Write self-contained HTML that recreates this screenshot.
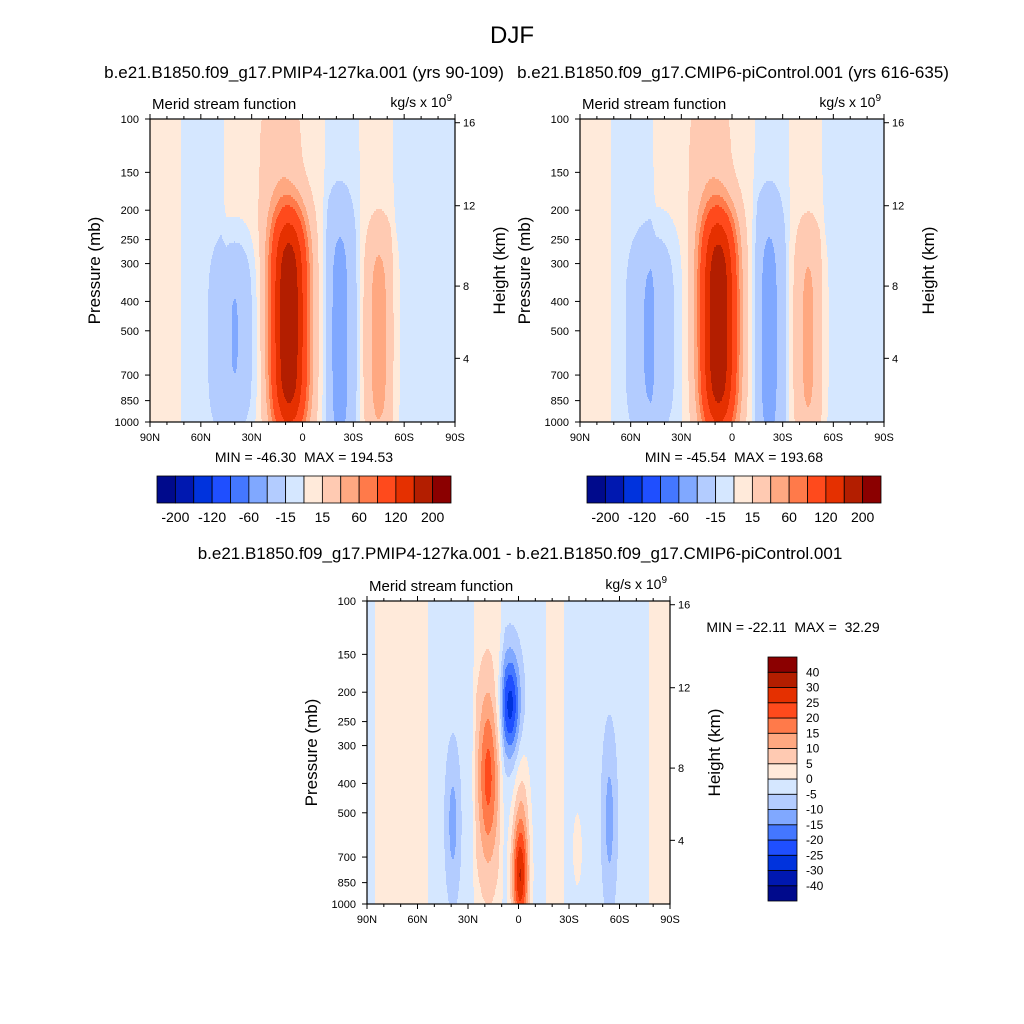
<!DOCTYPE html>
<html><head><meta charset="utf-8"><style>
body{margin:0;background:#fff;}
svg{display:block;font-family:"Liberation Sans",sans-serif;}
</style></head><body>
<svg id="chart" width="1024" height="1024" viewBox="0 0 1024 1024">
<rect width="1024" height="1024" fill="#fff"/>
<text x="512" y="43" font-size="24" text-anchor="middle">DJF</text>
<text x="304" y="78" font-size="17" text-anchor="middle">b.e21.B1850.f09_g17.PMIP4-127ka.001 (yrs 90-109)</text>
<text x="733" y="78" font-size="17" text-anchor="middle">b.e21.B1850.f09_g17.CMIP6-piControl.001 (yrs 616-635)</text>
<text x="520" y="559" font-size="17" text-anchor="middle">b.e21.B1850.f09_g17.PMIP4-127ka.001 - b.e21.B1850.f09_g17.CMIP6-piControl.001</text>
<g id="root"></g>
</svg>
<script>
// ---- data ----
const colors = ["#000a8c","#0018b0","#0033dd","#1f4fff","#4477ff","#80a8ff","#b3ccff","#d5e7ff","#ffeada","#ffcab2","#ffa881","#ff7a4a","#ff4a1c","#e53000","#b31e00","#8b0000"];
const levelsAbs = [-200,-160,-120,-80,-60,-40,-15,0,15,40,60,80,120,160,200];
const levelsAbsLabels = ["-200","-120","-60","-15","15","60","120","200"];
const levelsDiff = [-40,-30,-25,-20,-15,-10,-5,0,5,10,15,20,25,30,40];
const latTicks = [90,60,30,0,-30,-60,-90];
const latTickLabels = ["90N","60N","30N","0","30S","60S","90S"];
const latMinor = [80,70,50,40,20,10,-10,-20,-40,-50,-70,-80];
const presTicks = [100,150,200,250,300,400,500,700,850,1000];
const heightTicks = [16,12,8,4];

// panel 1 background by latitude and blobs
const p1BgLat = [90,73,70,48,45,-12,-15,-32,-35,-52,-55,-90];
const p1BgVal = [5,5,-5,-5,5,5,-5,-5,5,5,-5,-5];
const p1Lat  = [8, 13, 40, -22, -45];
const p1Prs  = [480, 130, 520, 525, 525];
const p1Peak = [190, 25, -46, -45, 45];
const p1SLat = [8, 9, 9, 6.5, 6];
const p1SV   = [0.27, 0.2, 0.23, 0.33, 0.27];
const p1K    = [2, 1, 2, 2, 2];

const p2BgLat = [90,73,70,48,45,-12,-15,-32,-35,-52,-55,-90];
const p2BgVal = [5,5,-5,-5,5,5,-5,-5,5,5,-5,-5];
const p2Lat  = [8, 13, 46, -22, -45];
const p2Prs  = [480, 130, 520, 525, 525];
const p2Peak = [189, 25, -42, -45, 40];
const p2SLat = [8, 9, 10, 6.5, 6];
const p2SV   = [0.27, 0.2, 0.25, 0.33, 0.27];
const p2K    = [2, 1, 2, 2, 2];

const p3BgLat = [90,86,84,55,52,28,25,12,8,-15,-18,-26,-28,-76,-79,-90];
const p3BgVal = [-3,-3,3,3,-3,-3,3,3,-3,-3,3,3,-3,-3,3,3];
const p3Lat  = [5, 18, -1, -2, 39, -54, -35];
const p3Prs  = [220, 380, 820, 450, 540, 525, 660];
const p3Peak = [-24, 19, 32, 7, -9, -9, 7];
const p3SLat = [4.2, 4.3, 3.6, 3.5, 3, 3, 2];
const p3SV   = [0.12, 0.2, 0.14, 0.14, 0.17, 0.2, 0.09];
const p3K    = [1, 1, 1, 1, 1, 1, 1];

const NS="http://www.w3.org/2000/svg";
const root=document.getElementById('root');
function mk(tag,attrs,parent){const e=document.createElementNS(NS,tag);for(const k in attrs)e.setAttribute(k,attrs[k]);(parent||root).appendChild(e);return e;}
function interp(xs,ys,x){for(let i=0;i<xs.length-1;i++){if(x<=xs[i]&&x>=xs[i+1]){const t=(xs[i]-x)/(xs[i]-xs[i+1]);return ys[i]+t*(ys[i+1]-ys[i]);}}return ys[ys.length-1];}
function hToP(z){const m=z*1000;if(m<=11000)return 1013.25*Math.pow(1-2.2557e-5*m,5.256);return 226.3*Math.exp(-(m-11000)/6341.6);}

function panel(cfg){
  const g=mk('g',{});
  
  
  const L=cfg.left,T=cfg.top,W=cfg.w,H=cfg.h;
  const xOf=lat=>L+(90-lat)/180*W;
  const yOf=p=>T+Math.log10(p/100)*H;
  const field=(lat,p)=>{const v=Math.log10(p/100);let s=interp(cfg.bgLat,cfg.bgVal,lat);
    for(let i=0;i<cfg.lat.length;i++){const cv=Math.log10(cfg.prs[i]/100);
      const dv=v-cv, dl=lat-cfg.lat[i];
      const qv=dv*dv/(2*cfg.sv[i]*cfg.sv[i]);
      const ql=dl*dl/(2*cfg.slat[i]*cfg.slat[i]);
      s+=cfg.peak[i]*Math.exp(-ql)*Math.exp(-Math.pow(qv,cfg.k[i]));}
    return s;};
  const idx=val=>{let k=0;for(const l of cfg.levels)if(val>=l)k++;return k;};
  const fg=mk('g',{},g);
  
  
  const dy=2;
  for(let y=T;y<T+H;y+=dy){
    const p=100*Math.pow(10,(y+dy/2-T)/H);
    let start=L,cur=-1;
    for(let x=L;x<=L+W;x++){
      let c=-1;
      if(x<L+W){const lat=90-(x+0.5-L)/W*180;c=idx(field(lat,p));}
      if(c!==cur){
        if(cur>=0){const r=mk('rect',{x:start,y:y,width:x-start+0.5,height:Math.min(dy+0.5,T+H-y),fill:colors[cur]},fg);
          
          }
        start=x;cur=c;}
    }
  }
  const fr=mk('rect',{x:L,y:T,width:W,height:H,fill:'none',stroke:'#000','stroke-width':1.2},g);
  
  
  latTicks.forEach((lat,i)=>{const x=xOf(lat);
    mk('line',{x1:x,x2:x,y1:T+H,y2:T+H+5,stroke:'#000'},g);
    mk('line',{x1:x,x2:x,y1:T,y2:T-5,stroke:'#000'},g);
    const t=mk('text',{x:x,y:T+H+19,'font-size':11,'text-anchor':'middle'},g);t.textContent=latTickLabels[i];
    
    });
  latMinor.forEach(lat=>{const x=xOf(lat);
    mk('line',{x1:x,x2:x,y1:T+H,y2:T+H+3,stroke:'#000'},g);
    mk('line',{x1:x,x2:x,y1:T,y2:T-3,stroke:'#000'},g);});
  presTicks.forEach(p=>{const y=yOf(p);
    mk('line',{x1:L,x2:L-5,y1:y,y2:y,stroke:'#000'},g);
    const t=mk('text',{x:L-11,y:y+4,'font-size':11,'text-anchor':'end'},g);t.textContent=p;
    
    });
  heightTicks.forEach(z=>{const y=yOf(hToP(z));
    mk('line',{x1:L+W,x2:L+W+5,y1:y,y2:y,stroke:'#000'},g);
    const t=mk('text',{x:L+W+8,y:y+4,'font-size':11},g);t.textContent=z;
    
    });
  let t=mk('text',{x:L-50,y:T+H/2,'font-size':17,'text-anchor':'middle',transform:`rotate(-90 ${L-50} ${T+H/2})`},g);t.textContent='Pressure (mb)';
  
  
  t=mk('text',{x:L+W+50,y:T+H/2,'font-size':17,'text-anchor':'middle',transform:`rotate(-90 ${L+W+50} ${T+H/2})`},g);t.textContent='Height (km)';
  
  
  t=mk('text',{x:L+2,y:T-10,'font-size':15},g);t.textContent='Merid stream function';
  
  
  t=mk('text',{x:L+W-3,y:T-12,'font-size':14,'text-anchor':'end'},g);
  t.innerHTML='kg/s x 10<tspan dy="-6" font-size="10">9</tspan>';
  
  
  t=mk('text',{x:cfg.mmX,y:cfg.mmY,'font-size':14,'text-anchor':'middle'},g);t.textContent=cfg.minmax;
  t.style.whiteSpace='pre';
  
  
}

panel({name:'panel-127ka',left:150,top:119,w:305,h:303,levels:levelsAbs,bgLat:p1BgLat,bgVal:p1BgVal,lat:p1Lat,prs:p1Prs,peak:p1Peak,slat:p1SLat,sv:p1SV,k:p1K,mmX:304,mmY:462,minmax:'MIN = -46.30  MAX = 194.53'});
panel({name:'panel-picontrol',left:580,top:119,w:304,h:303,levels:levelsAbs,bgLat:p2BgLat,bgVal:p2BgVal,lat:p2Lat,prs:p2Prs,peak:p2Peak,slat:p2SLat,sv:p2SV,k:p2K,mmX:734,mmY:462,minmax:'MIN = -45.54  MAX = 193.68'});
panel({name:'panel-difference',left:367,top:601,w:303,h:303,levels:levelsDiff,bgLat:p3BgLat,bgVal:p3BgVal,lat:p3Lat,prs:p3Prs,peak:p3Peak,slat:p3SLat,sv:p3SV,k:p3K,mmX:793,mmY:632,minmax:'MIN = -22.11  MAX =  32.29'});

[157,587].forEach((x0,j)=>{
  const g=mk('g',{});
  
  
  const bw=294/16;
  colors.forEach((c,i)=>{const r=mk('rect',{x:x0+i*bw,y:476,width:bw,height:27,fill:c,stroke:'#000','stroke-width':0.8},g);
    
    });
  levelsAbsLabels.forEach((s,i)=>{const t=mk('text',{x:x0+(2*i+1)*bw,y:522,'font-size':14,'text-anchor':'middle'},g);t.textContent=s;
    
    });
});
(function(){
  const g=mk('g',{});
  
  
  const y0=657,bh=244/16;
  colors.forEach((c,i)=>{const r=mk('rect',{x:768,y:y0+(15-i)*bh,width:29,height:bh,fill:c,stroke:'#000','stroke-width':0.8},g);
    
    });
  levelsDiff.forEach((l,i)=>{const t=mk('text',{x:806,y:y0+(15-i)*bh+4,'font-size':12},g);t.textContent=l;
    
    });
})();
</script>
</body></html>
